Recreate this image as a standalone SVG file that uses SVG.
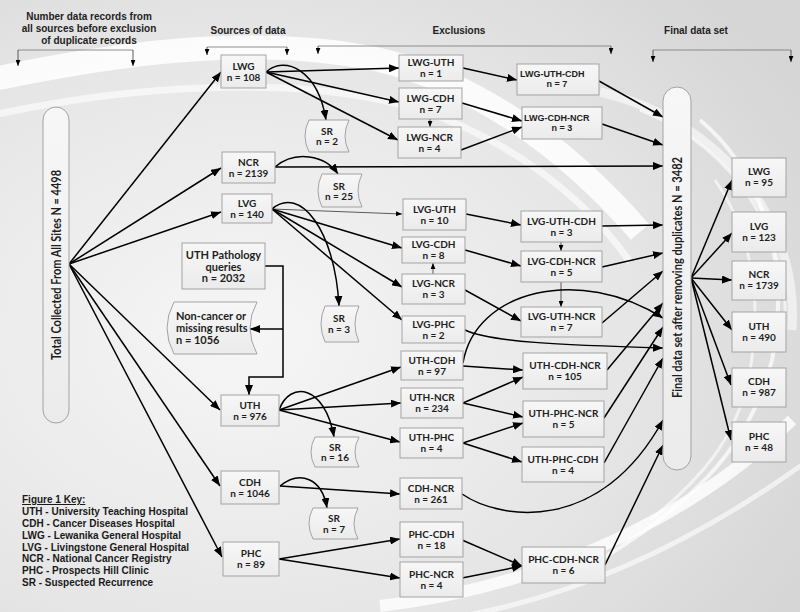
<svg xmlns="http://www.w3.org/2000/svg" width="800" height="612" viewBox="0 0 800 612">
<defs>
<radialGradient id="bg" cx="0.3" cy="0.55" r="0.8">
<stop offset="0" stop-color="#f6f6f6"/>
<stop offset="0.6" stop-color="#e6e6e6"/>
<stop offset="1" stop-color="#d6d6d6"/>
</radialGradient>
<linearGradient id="bx" x1="0" y1="0" x2="0" y2="1">
<stop offset="0" stop-color="#f7f7f7"/>
<stop offset="1" stop-color="#ebebeb"/>
</linearGradient>
<marker id="ah" viewBox="0 0 10 8" refX="10" refY="4" markerWidth="10" markerHeight="8" markerUnits="userSpaceOnUse" orient="auto"><path d="M0,0 L10,4 L0,8 z" fill="#000"/></marker>
<marker id="as" viewBox="0 0 10 8" refX="10" refY="4" markerWidth="6" markerHeight="5" markerUnits="userSpaceOnUse" orient="auto"><path d="M0,0 L10,4 L0,8 z" fill="#000"/></marker>
</defs>
<style>
.box{fill:url(#bx);stroke:#a3a3a3;stroke-width:1}
.t{font-family:Lato,"Liberation Sans",sans-serif;font-weight:bold;font-size:10px;fill:#1e1e1e;text-anchor:middle}
.ta{font-family:"Liberation Sans",Arial,sans-serif;font-weight:bold;font-size:9px;fill:#1e1e1e}
.h{font-family:"Liberation Sans",Arial,sans-serif;font-weight:bold;font-size:10px;fill:#222;text-anchor:middle}
.k{font-family:"Liberation Sans",Arial,sans-serif;font-weight:bold;font-size:10px;fill:#1a1a1a}
.big{font-family:Lato,"Liberation Sans",sans-serif;font-weight:bold;font-size:12.5px;fill:#1e1e1e;text-anchor:middle}
.c{fill:none;stroke:#000;stroke-width:1.5;marker-end:url(#ah)}
.tn{fill:none;stroke:#333;stroke-width:0.8;marker-end:url(#as)}
.br{fill:none;stroke:#777;stroke-width:0.8}
.sw{fill:none;stroke:#fff}
</style>
<rect width="800" height="612" fill="url(#bg)"/>
<g id="background-swooshes">
<path class="sw" d="M-20,82 C100,56 250,32 380,60 C470,82 560,140 640,232" stroke-width="24" opacity="0.85"/>
<path class="sw" d="M-20,118 C120,86 300,72 420,110 C500,136 580,190 630,262" stroke-width="7" opacity="0.6"/>
<path class="sw" d="M600,92 C720,120 800,220 792,330" stroke-width="9" opacity="0.55"/>
<path class="sw" d="M640,110 C740,150 790,240 785,330" stroke-width="3" opacity="0.6"/>
<path class="sw" d="M700,120 C760,170 792,260 772,360 C752,440 700,500 600,560" stroke-width="4" opacity="0.7"/>
<path class="sw" d="M715,180 C750,230 765,300 748,380 C735,440 700,480 650,520" stroke-width="3" opacity="0.6"/>
<path class="sw" d="M380,606 C520,590 680,530 792,420" stroke-width="12" opacity="0.8"/>
<path class="sw" d="M450,618 C600,594 720,524 806,462" stroke-width="5" opacity="0.6"/>
</g>
<g id="headers">
<text class="h" x="89" y="19.5">Number data records from</text>
<text class="h" x="89" y="31.5">all sources before exclusion</text>
<text class="h" x="89" y="43.5">of duplicate records</text>
<text class="h" x="248" y="34">Sources of data</text>
<text class="h" x="459" y="34">Exclusions</text>
<text class="h" x="696" y="34">Final data set</text>
<path class="br" d="M18,50 H133"/>
<path class="tn" d="M18,50 V66"/><path class="tn" d="M133,50 V66"/>
<path class="br" d="M207,47 H287"/>
<path class="tn" d="M207,47 V55"/><path class="tn" d="M287,47 V55"/>
<path class="br" d="M318,46 H611"/>
<path class="tn" d="M318,46 V54"/><path class="tn" d="M611,46 V54"/>
<path class="br" d="M653,50 H791"/>
<path class="tn" d="M653,50 V62"/><path class="tn" d="M791,50 V62"/>
</g>
<g id="connectors">
<path class="c" d="M69,264 L221,72"/>
<path class="c" d="M69,264 L221,168"/>
<path class="c" d="M69,264 L221,212"/>
<path class="c" d="M69,264 L220,410"/>
<path class="c" d="M69,264 L220,486"/>
<path class="c" d="M69,264 L222,557"/>
<path class="c" d="M266,72 L399,68"/>
<path class="c" d="M266,72 L399,102"/>
<path class="c" d="M266,72 L398,140"/>
<path class="c" d="M266,72 C285,55 318,70 326,120"/>
<path class="tn" d="M430,119 L430,127"/>
<path class="c" d="M275,167 L663,166"/>
<path class="c" d="M275,167 C295,150 325,155 338,174"/>
<path class="tn" d="M272,209 L402,214"/>
<path class="c" d="M272,209 L402,248"/>
<path class="c" d="M272,209 L402,287"/>
<path class="c" d="M272,209 L402,320"/>
<path class="c" d="M272,209 C300,185 335,230 339,306"/>
<path class="tn" d="M433,274 L433,263"/>
<path class="c" d="M463,68 L517,80"/>
<path class="c" d="M462,103 L522,121"/>
<path class="c" d="M461,150 L522,127"/>
<path class="c" d="M599,81 L663,117"/>
<path class="c" d="M602,124 L663,145"/>
<path class="c" d="M466,214 L521,225"/>
<path class="c" d="M465,250 L521,266"/>
<path class="c" d="M465,290 L521,321"/>
<path class="tn" d="M561,242 L561,251"/>
<path class="tn" d="M561,282 L561,307"/>
<path class="c" d="M602,226 L663,225"/>
<path class="c" d="M602,267 L663,253"/>
<path class="c" d="M602,323 L663,271"/>
<path class="c" d="M465,330 C490,342 560,345 663,348"/>
<path class="c" d="M265,266 H283 V377 H249 V395"/>
<path class="c" d="M283,329 H250"/>
<path class="c" d="M279,410 L401,367"/>
<path class="c" d="M279,410 L401,403"/>
<path class="c" d="M279,410 L400,442"/>
<path class="c" d="M279,410 C290,380 325,385 334,437"/>
<path class="c" d="M463,363 C475,290 580,265 663,318"/>
<path class="c" d="M463,366 L523,370"/>
<path class="c" d="M463,403 L523,377"/>
<path class="c" d="M463,403 L523,417"/>
<path class="c" d="M463,443 L523,423"/>
<path class="c" d="M463,443 L522,462"/>
<path class="c" d="M607,370 L663,303"/>
<path class="c" d="M604,418 L663,327"/>
<path class="c" d="M604,463 L663,358"/>
<path class="c" d="M280,486 L400,494"/>
<path class="c" d="M280,486 C300,470 322,478 327,508"/>
<path class="c" d="M462,494 C500,520 600,535 663,420"/>
<path class="c" d="M279,559 L400,539"/>
<path class="c" d="M279,559 L400,578"/>
<path class="c" d="M462,540 L522,566"/>
<path class="c" d="M462,578 L522,566"/>
<path class="c" d="M605,565 L663,445"/>
<path class="c" d="M691,278 L732,180"/>
<path class="c" d="M691,278 L732,233"/>
<path class="c" d="M691,278 L732,280"/>
<path class="c" d="M691,278 L732,330"/>
<path class="c" d="M691,278 L731,385"/>
<path class="c" d="M691,278 L731,440"/>
</g>
<g id="total"><rect class="box" x="43" y="107" width="26" height="316" rx="13"/>
<text class="big" x="56" y="269.5" transform="rotate(-90 56 265)" textLength="190" lengthAdjust="spacingAndGlyphs">Total Collected From All Sites N = 4498</text></g>
<g id="final"><rect class="box" x="663" y="87" width="28" height="383" rx="14"/>
<text class="big" x="677" y="282" transform="rotate(-90 677 277.5)" textLength="241" lengthAdjust="spacingAndGlyphs" style="font-size:13px">Final data set after removing duplicates N = 3482</text></g>
<g id="src-lwg"><rect class="box" x="221" y="55" width="45" height="33"/><text class="t" x="243.5" y="69.5">LWG</text><text class="t" x="243.5" y="80.5">n = 108</text></g>
<g id="src-ncr"><rect class="box" x="222" y="152" width="53" height="31"/><text class="t" x="248.5" y="165.5">NCR</text><text class="t" x="248.5" y="176.5">n = 2139</text></g>
<g id="src-lvg"><rect class="box" x="222" y="194" width="50" height="29"/><text class="t" x="247" y="206.5">LVG</text><text class="t" x="247" y="217.5">n = 140</text></g>
<g id="src-uth"><rect class="box" x="221" y="395" width="58" height="31"/><text class="t" x="250" y="408.5">UTH</text><text class="t" x="250" y="419.5">n = 976</text></g>
<g id="src-cdh"><rect class="box" x="221" y="471" width="58" height="33"/><text class="t" x="250" y="485.5">CDH</text><text class="t" x="250" y="496.5">n = 1046</text></g>
<g id="src-phc"><rect class="box" x="223" y="542" width="56" height="34"/><text class="t" x="251" y="557">PHC</text><text class="t" x="251" y="568">n = 89</text></g>
<g id="uth-path"><rect class="box" x="182" y="243" width="83" height="46"/><text class="t" x="223.5" y="259" style="font-size:11px">UTH Pathology</text><text class="t" x="223.5" y="270.5" style="font-size:11px">queries</text><text class="t" x="223.5" y="282" style="font-size:11px">n = 2032</text></g>
<g id="non-cancer"><path class="box" d="M174,302 H257 Q243,328 257,354 H174 Q160,328 174,302 Z"/><text class="t" x="176" y="320" style="font-size:11px;text-anchor:start">Non-cancer or</text><text class="t" x="176" y="332" style="font-size:11px;text-anchor:start">missing results</text><text class="t" x="176" y="344" style="font-size:11px;text-anchor:start">n = 1056</text></g>
<g id="sr-2"><path class="box" d="M309,120 H349 Q341,136 349,152 H309 Q301,136 309,120 Z"/><text class="t" x="327" y="134.5">SR</text><text class="t" x="327" y="145">n = 2</text></g>
<g id="sr-25"><path class="box" d="M322,174 H362 Q354,190.5 362,207 H322 Q314,190.5 322,174 Z"/><text class="t" x="339" y="189.5">SR</text><text class="t" x="339" y="200">n = 25</text></g>
<g id="sr-3"><path class="box" d="M325,306 H359 Q351,324 359,342 H325 Q317,324 325,306 Z"/><text class="t" x="339" y="321.5">SR</text><text class="t" x="339" y="332.5">n = 3</text></g>
<g id="sr-16"><path class="box" d="M315,437 H359 Q351,452 359,467 H315 Q307,452 315,437 Z"/><text class="t" x="335" y="450.5">SR</text><text class="t" x="335" y="461">n = 16</text></g>
<g id="sr-7"><path class="box" d="M313,508 H358 Q350,523.5 358,539 H313 Q305,523.5 313,508 Z"/><text class="t" x="334" y="521.5">SR</text><text class="t" x="334" y="532.5">n = 7</text></g>
<g id="lwg-uth"><rect class="box" x="399" y="55" width="64" height="26"/><text class="t" x="431" y="66">LWG-UTH</text><text class="t" x="431" y="77">n = 1</text></g>
<g id="lwg-cdh"><rect class="box" x="399" y="88" width="63" height="31"/><text class="t" x="430.5" y="101.5">LWG-CDH</text><text class="t" x="430.5" y="112.5">n = 7</text></g>
<g id="lwg-ncr"><rect class="box" x="398" y="127" width="63" height="31"/><text class="t" x="429.5" y="140.5">LWG-NCR</text><text class="t" x="429.5" y="151.5">n = 4</text></g>
<g id="lvg-uth"><rect class="box" x="403" y="199" width="63" height="31"/><text class="t" x="434.5" y="212.5">LVG-UTH</text><text class="t" x="434.5" y="223.5">n = 10</text></g>
<g id="lvg-cdh"><rect class="box" x="402" y="237" width="63" height="26"/><text class="t" x="433.5" y="248">LVG-CDH</text><text class="t" x="433.5" y="259">n = 8</text></g>
<g id="lvg-ncr"><rect class="box" x="402" y="274" width="63" height="30"/><text class="t" x="433.5" y="287">LVG-NCR</text><text class="t" x="433.5" y="298">n = 3</text></g>
<g id="lvg-phc"><rect class="box" x="402" y="316" width="63" height="27"/><text class="t" x="433.5" y="327.5">LVG-PHC</text><text class="t" x="433.5" y="338.5">n = 2</text></g>
<g id="uth-cdh"><rect class="box" x="401" y="351" width="62" height="29"/><text class="t" x="432" y="363.5">UTH-CDH</text><text class="t" x="432" y="374.5">n = 97</text></g>
<g id="uth-ncr"><rect class="box" x="401" y="388" width="62" height="30"/><text class="t" x="432" y="401">UTH-NCR</text><text class="t" x="432" y="412">n = 234</text></g>
<g id="uth-phc"><rect class="box" x="400" y="428" width="63" height="30"/><text class="t" x="431.5" y="441">UTH-PHC</text><text class="t" x="431.5" y="452">n = 4</text></g>
<g id="cdh-ncr"><rect class="box" x="400" y="478" width="62" height="31"/><text class="t" x="431" y="491.5">CDH-NCR</text><text class="t" x="431" y="502.5">n = 261</text></g>
<g id="phc-cdh"><rect class="box" x="400" y="522" width="63" height="35"/><text class="t" x="431.5" y="537.5">PHC-CDH</text><text class="t" x="431.5" y="548.5">n = 18</text></g>
<g id="phc-ncr"><rect class="box" x="400" y="562" width="63" height="35"/><text class="t" x="431.5" y="577.5">PHC-NCR</text><text class="t" x="431.5" y="588.5">n = 4</text></g>
<g id="lwg-uth-cdh"><rect class="box" x="517" y="64" width="82" height="31"/><text class="ta" x="520" y="77">LWG-UTH-CDH</text><text class="ta" x="557" y="87" text-anchor="middle">n = 7</text></g>
<g id="lwg-cdh-ncr"><rect class="box" x="522" y="107" width="80" height="32"/><text class="ta" x="524" y="121">LWG-CDH-NCR</text><text class="ta" x="562" y="131" text-anchor="middle">n = 3</text></g>
<g id="lvg-uth-cdh"><rect class="box" x="521" y="211" width="81" height="31"/><text class="t" x="561.5" y="224.5">LVG-UTH-CDH</text><text class="t" x="561.5" y="235.5">n = 3</text></g>
<g id="lvg-cdh-ncr"><rect class="box" x="521" y="251" width="81" height="31"/><text class="t" x="561.5" y="264.5">LVG-CDH-NCR</text><text class="t" x="561.5" y="275.5">n = 5</text></g>
<g id="lvg-uth-ncr"><rect class="box" x="521" y="307" width="81" height="30"/><text class="t" x="561.5" y="320">LVG-UTH-NCR</text><text class="t" x="561.5" y="331">n = 7</text></g>
<g id="uth-cdh-ncr"><rect class="box" x="523" y="353" width="84" height="36"/><text class="t" x="565" y="369">UTH-CDH-NCR</text><text class="t" x="565" y="380">n = 105</text></g>
<g id="uth-phc-ncr"><rect class="box" x="523" y="401" width="81" height="36"/><text class="t" x="563.5" y="417">UTH-PHC-NCR</text><text class="t" x="563.5" y="428">n = 5</text></g>
<g id="uth-phc-cdh"><rect class="box" x="522" y="447" width="82" height="35"/><text class="t" x="563" y="462.5">UTH-PHC-CDH</text><text class="t" x="563" y="473.5">n = 4</text></g>
<g id="phc-cdh-ncr"><rect class="box" x="522" y="547" width="83" height="36"/><text class="t" x="563.5" y="563">PHC-CDH-NCR</text><text class="t" x="563.5" y="574">n = 6</text></g>
<g id="fin-lwg"><rect class="box" x="732" y="158" width="54" height="39"/><text class="t" x="759" y="175">LWG</text><text class="t" x="759" y="186">n = 95</text></g>
<g id="fin-lvg"><rect class="box" x="732" y="212" width="54" height="40"/><text class="t" x="759" y="229.5">LVG</text><text class="t" x="759" y="240.5">n =  123</text></g>
<g id="fin-ncr"><rect class="box" x="732" y="261" width="54" height="39"/><text class="t" x="759" y="278">NCR</text><text class="t" x="759" y="289">n = 1739</text></g>
<g id="fin-uth"><rect class="box" x="732" y="312" width="54" height="40"/><text class="t" x="759" y="329.5">UTH</text><text class="t" x="759" y="340.5">n = 490</text></g>
<g id="fin-cdh"><rect class="box" x="732" y="368" width="54" height="39"/><text class="t" x="759" y="385">CDH</text><text class="t" x="759" y="396">n = 987</text></g>
<g id="fin-phc"><rect class="box" x="732" y="422" width="54" height="40"/><text class="t" x="759" y="439.5">PHC</text><text class="t" x="759" y="450.5">n = 48</text></g>
<g id="key">
<text class="k" x="22" y="503" text-decoration="underline">Figure 1 Key:</text>
<text class="k" x="22" y="515">UTH - University Teaching Hospital</text>
<text class="k" x="22" y="527">CDH - Cancer Diseases Hospital</text>
<text class="k" x="22" y="538.5">LWG - Lewanika General Hospital</text>
<text class="k" x="22" y="550.5">LVG - Livingstone General Hospital</text>
<text class="k" x="22" y="562">NCR - National Cancer Registry</text>
<text class="k" x="22" y="574">PHC - Prospects Hill Clinic</text>
<text class="k" x="22" y="585.5">SR - Suspected Recurrence</text>
</g>
</svg>
